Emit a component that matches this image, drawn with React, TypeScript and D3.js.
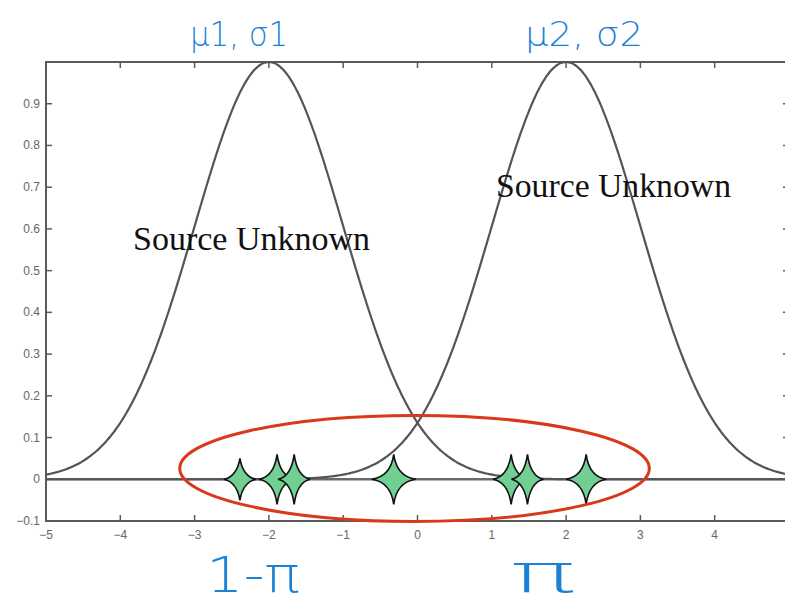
import React from "react";
import * as d3 from "d3";

// Mixture of two unit-height Gaussian components
const componentMeans = [-2, 2];
const componentSigmas = [1, 1];

// Observed samples on the x axis (source unknown)
const sampleX = [-2.39, -1.89, -1.66, -0.32, 1.26, 1.48, 2.27];
const sampleHalfHeight = [21, 25, 25, 25, 25, 25, 25];
const sampleHalfWidth = [16, 18, 16, 22, 18, 16, 20];

const xTicks = [-5, -4, -3, -2, -1, 0, 1, 2, 3, 4, 5];
const xTickLabels = ["-5", "-4", "-3", "-2", "-1", "0", "1", "2", "3", "4", ""];
const yTicks = [-0.1, 0, 0.1, 0.2, 0.3, 0.4, 0.5, 0.6, 0.7, 0.8, 0.9];

const W = 785;
const H = 607;

const x = d3.scaleLinear().domain([-5, 5]).range([46, 789]);
const y = d3.scaleLinear().domain([-0.1, 1]).range([521, 62]);

const gauss = (v: number, mu: number, s: number) =>
  Math.exp(-((v - mu) * (v - mu)) / (2 * s * s));

const grid = d3.range(-5, 5.0001, 0.02);

const line = d3
  .line<[number, number]>()
  .x((d) => x(d[0]))
  .y((d) => y(d[1]))
  .curve(d3.curveBasis);

function starPath(cx: number, cy: number, rx: number, ry: number) {
  const k = 3;
  return `M${cx},${cy - ry} Q${cx + k},${cy - k} ${cx + rx},${cy} Q${cx + k},${cy + k} ${cx},${cy + ry} Q${cx - k},${cy + k} ${cx - rx},${cy} Q${cx - k},${cy - k} ${cx},${cy - ry} Z`;
}

const fmt = (v: number) => (v < 0 ? "\u2212" : "") + String(Math.abs(v));
const fmtLabel = (s: string) => s.replace("-", "\u2212");

export default function App() {
  const axisColor = "#5a5a5a";
  const curveColor = "#555";
  const tickColor = "#666";
  const ink = "#1a82d6";
  const x0 = x(-5), x1 = x(5), yTop = y(1), yBot = y(-0.1);

  return (
    <svg
      width={W}
      height={H}
      style={{ position: "absolute", left: 0, top: 0, background: "#fff" }}
      viewBox={`0 0 ${W} ${H}`}
    >
      <rect x={0} y={0} width={W} height={H} fill="#fff" />

      {/* axes box */}
      <rect
        x={x0}
        y={yTop}
        width={x1 - x0}
        height={yBot - yTop}
        fill="none"
        stroke={axisColor}
        strokeWidth={2}
      />

      {/* x ticks (bottom and top, pointing inward) */}
      {xTicks.map((t, i) => (
        <g key={"xt" + t}>
          <line x1={x(t)} x2={x(t)} y1={yBot} y2={yBot - 6} stroke={axisColor} strokeWidth={1.5} />
          <line x1={x(t)} x2={x(t)} y1={yTop} y2={yTop + 6} stroke={axisColor} strokeWidth={1.5} />
          {xTickLabels[i] && (
            <text
              x={x(t)}
              y={yBot + 18}
              textAnchor="middle"
              fontFamily="Liberation Sans, Arial, sans-serif"
              fontSize={12}
              fill={tickColor}
            >
              {fmtLabel(xTickLabels[i])}
            </text>
          )}
        </g>
      ))}

      {/* y ticks (left and right, pointing inward) */}
      {yTicks.map((t) => (
        <g key={"yt" + t}>
          <line x1={x0} x2={x0 + 6} y1={y(t)} y2={y(t)} stroke={axisColor} strokeWidth={1.5} />
          <line x1={x1} x2={x1 - 6} y1={y(t)} y2={y(t)} stroke={axisColor} strokeWidth={1.5} />
          <text
            x={40}
            y={y(t) + 4}
            textAnchor="end"
            fontFamily="Liberation Sans, Arial, sans-serif"
            fontSize={12}
            fill={tickColor}
          >
            {fmt(t)}
          </text>
        </g>
      ))}

      {/* zero line */}
      <line x1={x0} x2={x1} y1={y(0)} y2={y(0)} stroke="#6a6a6a" strokeWidth={2.5} />

      {/* component densities */}
      {componentMeans.map((mu, i) => (
        <path
          key={"g" + i}
          d={line(grid.map((v) => [v, gauss(v, mu, componentSigmas[i])]) as [number, number][]) || ""}
          fill="none"
          stroke={curveColor}
          strokeWidth={2.2}
        />
      ))}

      {/* labels on the curves */}
      <text x={133} y={250} fontFamily="Liberation Serif, Times New Roman, serif" fontSize={33} fill="#111" textLength={237} lengthAdjust="spacingAndGlyphs">
        Source Unknown
      </text>
      <text x={496} y={197} fontFamily="Liberation Serif, Times New Roman, serif" fontSize={33} fill="#111" textLength={235} lengthAdjust="spacingAndGlyphs">
        Source Unknown
      </text>

      {/* samples */}
      {sampleX.map((v, i) => (
        <path
          key={"s" + i}
          d={starPath(x(v), y(0), sampleHalfWidth[i], sampleHalfHeight[i])}
          fill="#72cf93"
          stroke="#111"
          strokeWidth={1.6}
          strokeLinejoin="miter"
        />
      ))}

      {/* grouping ellipse */}
      <ellipse
        cx={x(-0.04)}
        cy={y(0.026)}
        rx={x(3.16) - x(0)}
        ry={y(0) - y(0.127)}
        fill="none"
        stroke="#d8391b"
        strokeWidth={3}
      />

      {/* annotations */}
      <text x={190} y={46} fontFamily="DejaVu Sans, sans-serif" fontSize={34} fontWeight={300} fill={ink} textLength={98} lengthAdjust="spacingAndGlyphs">
        μ1, σ1
      </text>
      <text x={525} y={46} fontFamily="DejaVu Sans, sans-serif" fontSize={34} fontWeight={300} fill={ink} textLength={118} lengthAdjust="spacingAndGlyphs">
        μ2, σ2
      </text>
      <text x={206} y={592} fontFamily="DejaVu Sans, sans-serif" fontSize={50} fontWeight={300} fill={ink} textLength={94} lengthAdjust="spacingAndGlyphs">
        1-π
      </text>
      <text x={510} y={592} fontFamily="DejaVu Sans, sans-serif" fontSize={54} fontWeight={300} fill={ink} textLength={66} lengthAdjust="spacingAndGlyphs">
        π
      </text>
    </svg>
  );
}
